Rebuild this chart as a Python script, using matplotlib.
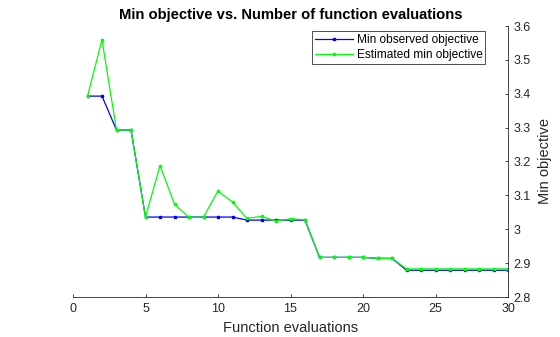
import matplotlib
matplotlib.use("Agg")
import matplotlib.pyplot as plt

evals = list(range(1, 31))
min_observed = [3.393, 3.393, 3.293, 3.293, 3.036, 3.036, 3.036, 3.036, 3.036, 3.036,
                3.036, 3.027, 3.027, 3.027, 3.027, 3.027, 2.917, 2.917, 2.917, 2.917,
                2.914, 2.914, 2.879, 2.879, 2.879, 2.879, 2.879, 2.879, 2.879, 2.879]
est_min = [3.393, 3.559, 3.293, 3.293, 3.036, 3.188, 3.074, 3.035, 3.036, 3.113,
           3.080, 3.032, 3.038, 3.024, 3.031, 3.028, 2.917, 2.917, 2.917, 2.917,
           2.914, 2.914, 2.883, 2.883, 2.883, 2.883, 2.883, 2.883, 2.883, 2.883]

plt.rcParams['font.family'] = ['Liberation Sans', 'DejaVu Sans']

fig = plt.figure(figsize=(5.6, 3.37), dpi=100)
ax = fig.add_axes([73/560, 1 - 297/337, (508-73)/560, (297-26)/337])

ax.plot(evals, min_observed, '-s', color=(0, 0, 1), lw=0.9, ms=2, label='Min observed objective')
ax.plot(evals, est_min, '-s', color=(0, 1, 0), lw=0.9, ms=2, label='Estimated min objective')

ax.set_xlim(0, 30)
ax.set_ylim(2.8, 3.6)
ax.set_xticks([0, 5, 10, 15, 20, 25, 30])
ax.set_yticks([2.8, 2.9, 3.0, 3.1, 3.2, 3.3, 3.4, 3.5, 3.6])
ax.set_yticklabels(['2.8', '2.9', '3', '3.1', '3.2', '3.3', '3.4', '3.5', '3.6'])

ax.spines['top'].set_visible(False)
ax.spines['left'].set_visible(False)
ax.yaxis.tick_right()
ax.yaxis.set_label_position('right')
ax.tick_params(direction='in', labelsize=9, length=2.5, width=0.6, colors='#262626', pad=4)
for s in ['bottom', 'right']:
    ax.spines[s].set_linewidth(0.6)
    ax.spines[s].set_color('#262626')

ax.set_xlabel('Function evaluations', fontsize=10.5, color='#262626', labelpad=5)
ax.set_ylabel('Min objective', fontsize=10.5, color='#262626', labelpad=5)
ax.set_title('Min objective vs. Number of function evaluations', fontsize=10.6, fontweight='bold', pad=5)

leg = ax.legend(loc='upper right', fontsize=8.6, frameon=True, fancybox=False,
                edgecolor='black', borderpad=0.25, handlelength=3.2, labelspacing=0.2,
                handletextpad=0.3, bbox_to_anchor=(0.948, 0.98), borderaxespad=0)
leg.get_frame().set_linewidth(0.6)

fig.savefig('out.png', dpi=100)
